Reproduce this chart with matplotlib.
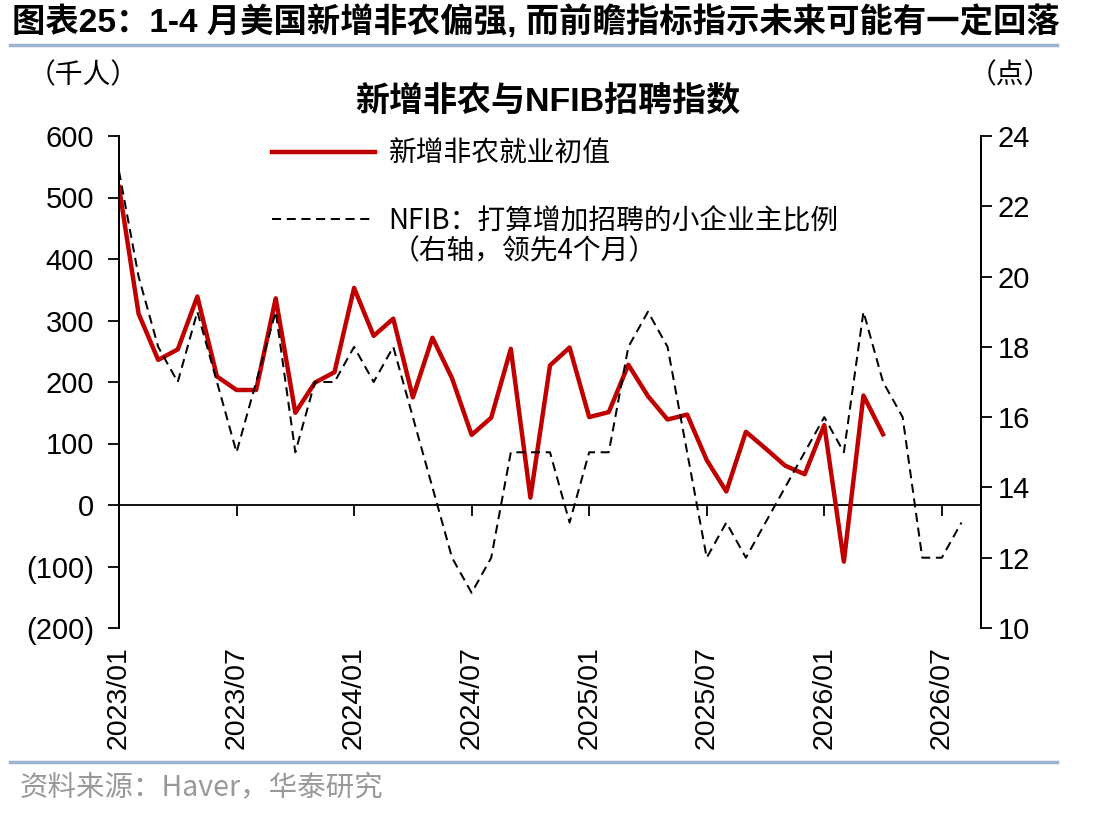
import matplotlib
matplotlib.use('Agg')
import matplotlib.pyplot as plt
from matplotlib.ticker import FuncFormatter
import numpy as np

# 新增非农就业初值（千人），2023/01 - 2026/04
payrolls = [517, 311, 236, 253, 339, 209, 187, 187, 336, 150, 199, 216,
            353, 275, 303, 175, 272, 206, 114, 142, 254, 12, 227, 256,
            143, 151, 228, 177, 139, 147, 73, 22, 119, 92, 64, 50,
            130, -92, 178, 115]
# NFIB 打算增加招聘的小企业主比例（领先4个月），2023/01 - 2026/08
nfib = [23, 20, 18, 17, 19, 17, 15, 17, 19, 15, 17, 17,
        18, 17, 18, 16, 14, 12, 11, 12, 15, 15, 15, 13,
        15, 15, 18, 19, 18, 15, 12, 13, 12, 13, 14, 15,
        16, 15, 19, 17, 16, 12, 12, 13]
tick_pos = [0, 6, 12, 18, 24, 30, 36, 42]
tick_labels = ['2023/01', '2023/07', '2024/01', '2024/07',
               '2025/01', '2025/07', '2026/01', '2026/07']

LATIN = ['Liberation Sans', 'Noto Sans CJK SC']
CJK = ['Noto Sans CJK SC', 'Liberation Sans']
plt.rcParams['font.family'] = LATIN
plt.rcParams['axes.linewidth'] = 1.3

fig = plt.figure(figsize=(11.12, 8.17), dpi=100)
ax = fig.add_axes([119 / 1112, 1 - 628 / 817, (981 - 119) / 1112, (628 - 136) / 817])
ax2 = ax.twinx()

l1, = ax.plot(np.arange(len(payrolls)), payrolls, color='#C00000', lw=3.2, zorder=3)
l2, = ax2.plot(np.arange(len(nfib)), nfib, color='black', lw=1.45, dashes=(4.5, 2.8))

ax.set_xlim(0, 44)
ax.set_ylim(-200, 600)
ax.set_yticks(range(-200, 601, 100))
ax.yaxis.set_major_formatter(FuncFormatter(lambda v, p: f'({abs(int(v))})' if v < 0 else f'{int(v)}'))
ax2.set_ylim(10, 24)
ax2.set_yticks(range(10, 25, 2))

for a in (ax, ax2):
    a.spines['top'].set_visible(False)
    a.spines['bottom'].set_visible(False)
ax.tick_params(axis='y', direction='out', length=8, width=1.3, labelsize=21, pad=10)
ax2.tick_params(axis='y', direction='out', length=8, width=1.3, labelsize=21, pad=4)

ax.set_xticks(tick_pos)
ax.set_xticklabels(tick_labels, rotation=90)
ax.tick_params(axis='x', length=0, labelsize=20.5, pad=13)

# zero line with tick marks
zero = ax.secondary_xaxis(0.25)
zero.set_xticks(tick_pos)
zero.tick_params(axis='x', length=8, width=1.3, labelbottom=False)
zero.spines['bottom'].set_linewidth(1.3)

# legend
leg = fig.legend([l1, l2], ['新增非农就业初值', 'NFIB：打算增加招聘的小企业主比例'],
                 loc='upper left', bbox_to_anchor=(272 / 1112, 1 - 139 / 817),
                 frameon=False, prop={'family': CJK, 'size': 20},
                 handlelength=3.7, handletextpad=0.5, labelspacing=1.33,
                 borderpad=0, borderaxespad=0)
fig.text(392 / 1112, 1 - 251 / 817, '（右轴，领先4个月）', family=CJK, fontsize=20, va='center')

# titles and units
fig.text(12 / 1112, 1 - 22 / 817, '图表25：1-4 月美国新增非农偏强, 而前瞻指标指示未来可能有一定回落',
         family=LATIN, fontsize=24, fontweight='bold', va='center')
fig.add_artist(plt.Line2D([10 / 1112, 1057 / 1112], [1 - 45 / 817] * 2, color='#9DB3CF', lw=2.5))
fig.text(548 / 1112, 1 - 101 / 817, '新增非农与NFIB招聘指数', family=LATIN, fontsize=24.5,
         fontweight='bold', ha='center', va='center')
fig.text(28 / 1112, 1 - 75 / 817, '（千人）', family=CJK, fontsize=20, va='center')
fig.text(1052 / 1112, 1 - 75 / 817, '（点）', family=CJK, fontsize=20, va='center', ha='right')

fig.add_artist(plt.Line2D([10 / 1112, 1057 / 1112], [1 - 762 / 817] * 2, color='#9DB3CF', lw=2.5))
fig.text(20 / 1112, 1 - 787 / 817, '资料来源：Haver，华泰研究', family=CJK, fontsize=20.5,
         color='#999999', va='center')

fig.savefig('out.png', dpi=100)
